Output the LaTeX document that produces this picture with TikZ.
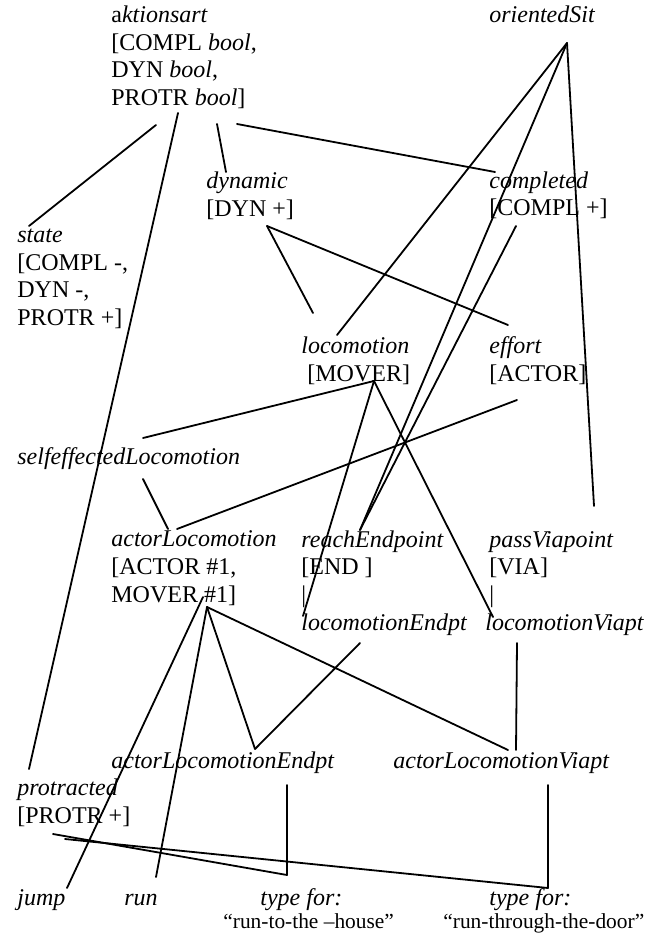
\documentclass[tikz,border=0pt]{standalone}
\usepackage{fontspec}
\setmainfont{Liberation Serif}
\begin{document}
\begin{tikzpicture}[x=0.5pt,y=-0.5pt,
  txt/.style={anchor=base west,inner sep=0pt,align=left,font=\fontsize{12pt}{13.8pt}\selectfont},
  small/.style={anchor=base west,inner sep=0pt,font=\fontsize{10.7pt}{12.3pt}\selectfont},
  link/.style={line width=0.9pt,line cap=round}]
\useasboundingbox (0,0) rectangle (654,935);
% text nodes (anchor = baseline of the last line)
\node[txt] (akt) at (111,105.5) {a\textit{ktionsart}\\{[}COMPL \textit{bool},\\DYN \textit{bool},\\PROTR \textit{bool}]};
\node[txt] (ori) at (489,23) {\textit{orientedSit}};
\node[txt] (dyn) at (206,216.6) {\textit{dynamic}\\{[}DYN +]};
\node[txt] (comp) at (489,216) {\textit{completed}\\{[}COMPL +]};
\node[txt] (state) at (17,325.5) {\textit{state}\\{[}COMPL -,\\DYN -,\\PROTR +]};
\node[txt] (loco) at (301,381) {\textit{locomotion}\\\hspace*{3pt}{[}MOVER]};
\node[txt] (eff) at (489,381) {\textit{effort}\\{[}ACTOR]};
\node[txt] (self) at (17,464) {\textit{selfeffectedLocomotion}};
\node[txt] (actl) at (111,602) {\textit{actorLocomotion}\\{[}ACTOR \#1,\\MOVER \#1]};
\node[txt] (reach) at (301,630) {\textit{reachEndpoint}\\{[}END ]\\|\\\textit{locomotionEndpt}};
\node[txt] (pass) at (489,630) {\textit{passViapoint}\\{[}VIA]\\|\\\hspace*{-2pt}\textit{locomotionViapt}};
\node[txt] (ale) at (111,768) {\textit{actorLocomotionEndpt}};
\node[txt] (alv) at (393,768) {\textit{actorLocomotionViapt}};
\node[txt] (prot) at (17,823) {\textit{protracted}\\{[}PROTR +]};
\node[txt] (jump) at (17,905) {\textit{jump}};
\node[txt] (run) at (124,905) {\textit{run}};
\node[txt] (tf1) at (260,905) {\textit{type for:}};
\node[small] (ex1) at (223,928) {“run-to-the –house”};
\node[txt] (tf2) at (489,905) {\textit{type for:}};
\node[small] (ex2) at (443,928) {“run-through-the-door”};
% connector end points
\coordinate (akt-1) at (156,125); \coordinate (state-t) at (29,226);
\coordinate (akt-2) at (178,113); \coordinate (prot-t) at (29,769);
\coordinate (akt-3) at (217,124); \coordinate (dyn-t) at (226,172);
\coordinate (akt-4) at (237,124); \coordinate (comp-t) at (495,172);
\coordinate (ori-b) at (567,43);
\coordinate (loco-t) at (337,335);
\coordinate (reach-t) at (360,530);
\coordinate (pass-t) at (594,506);
\coordinate (dyn-b) at (267,226);
\coordinate (loco-t2) at (313,313);
\coordinate (eff-t) at (508,325);
\coordinate (comp-b) at (516,226);
\coordinate (loco-b) at (374,381);
\coordinate (self-t) at (143,438);
\coordinate (lend-t) at (303,616);
\coordinate (lvia-t) at (493,617);
\coordinate (eff-b) at (517,400);
\coordinate (actl-t) at (177,529);
\coordinate (self-b) at (143,479);
\coordinate (actl-t2) at (168,529);
\coordinate (actl-b) at (207,607);
\coordinate (actl-b2) at (203,597);
\coordinate (jump-t) at (67,888);
\coordinate (run-t) at (156,877);
\coordinate (ale-t) at (255,749);
\coordinate (alv-t) at (508,750);
\coordinate (lend-b) at (360,643);
\coordinate (lvia-b) at (517,643);
\coordinate (alv-t2) at (516,750);
\coordinate (ale-b) at (287,785);
\coordinate (tf1-t) at (287,875);
\coordinate (prot-b) at (53,834);
\coordinate (alv-b) at (548,785);
\coordinate (tf2-t) at (548,888);
\coordinate (prot-b2) at (65,839);
% connectors
\draw[link] (akt-1) -- (state-t);
\draw[link] (akt-2) -- (prot-t);
\draw[link] (akt-3) -- (dyn-t);
\draw[link] (akt-4) -- (comp-t);
\draw[link] (ori-b) -- (loco-t);
\draw[link] (ori-b) -- (reach-t);
\draw[link] (ori-b) -- (pass-t);
\draw[link] (dyn-b) -- (loco-t2);
\draw[link] (dyn-b) -- (eff-t);
\draw[link] (comp-b) -- (reach-t);
\draw[link] (loco-b) -- (self-t);
\draw[link] (loco-b) -- (lend-t);
\draw[link] (loco-b) -- (lvia-t);
\draw[link] (eff-b) -- (actl-t);
\draw[link] (self-b) -- (actl-t2);
\draw[link] (actl-b2) -- (jump-t);
\draw[link] (actl-b) -- (run-t);
\draw[link] (actl-b) -- (ale-t);
\draw[link] (actl-b) -- (alv-t);
\draw[link] (lend-b) -- (ale-t);
\draw[link] (lvia-b) -- (alv-t2);
\draw[link] (ale-b) -- (tf1-t);
\draw[link] (prot-b) -- (tf1-t);
\draw[link] (alv-b) -- (tf2-t);
\draw[link] (prot-b2) -- (tf2-t);
\end{tikzpicture}
\end{document}
